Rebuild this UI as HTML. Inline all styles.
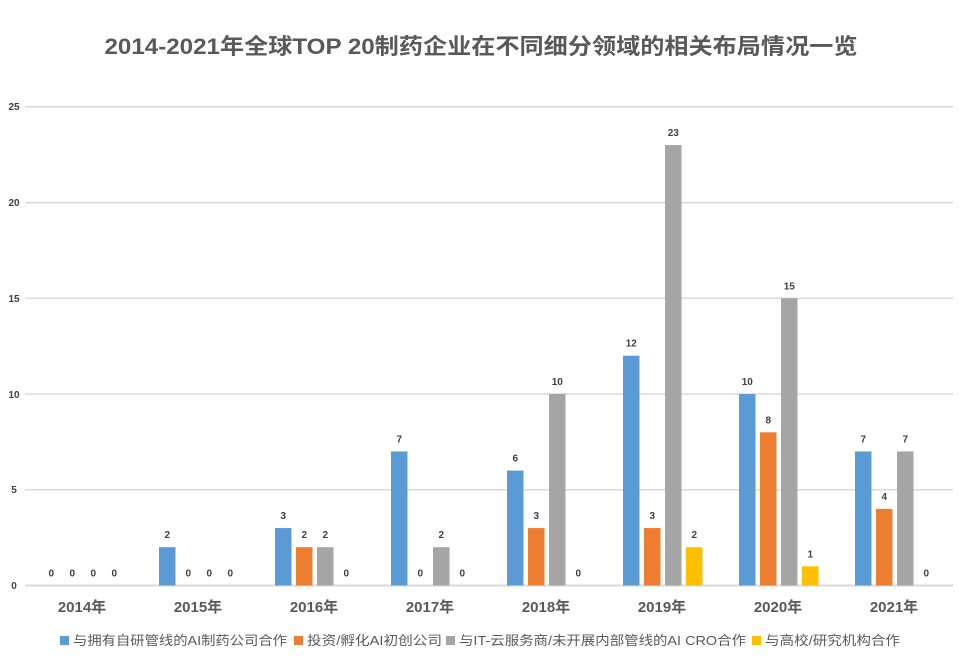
<!DOCTYPE html>
<html><head><meta charset="utf-8"><style>
body{margin:0;background:#fff;}
svg text{font-family:"Liberation Sans","Noto Sans CJK SC",sans-serif;}
</style></head><body>
<svg width="959" height="660" viewBox="0 0 959 660" xmlns="http://www.w3.org/2000/svg">
<rect width="959" height="660" fill="#fff"/>
<text x="481" y="54" text-anchor="middle" font-size="22" font-weight="bold" fill="#595959" textLength="753" lengthAdjust="spacingAndGlyphs">2014-2021年全球TOP 20制药企业在不同细分领域的相关布局情况一览</text>
<g stroke="#d9d9d9" stroke-width="1.5">
<line x1="25" y1="106.8" x2="953" y2="106.8"/>
<line x1="25" y1="202.6" x2="953" y2="202.6"/>
<line x1="25" y1="298.3" x2="953" y2="298.3"/>
<line x1="25" y1="394" x2="953" y2="394"/>
<line x1="25" y1="489.8" x2="953" y2="489.8"/>
<line x1="25" y1="585.5" x2="953" y2="585.5" stroke-width="2"/>
</g>
<g font-size="10" font-weight="bold" fill="#404040" text-anchor="middle">
<text x="14" y="110">25</text><text x="14" y="206">20</text><text x="14" y="302">15</text><text x="14" y="398">10</text><text x="14" y="493">5</text><text x="14" y="589">0</text>
</g>
<g id="bars"></g>
<g font-size="15" font-weight="bold" fill="#595959" text-anchor="middle" id="cats"></g>
<g font-size="13" fill="#595959">
<rect x="60" y="636" width="9" height="9" fill="#5B9BD5"/><text x="73" y="645" textLength="214" lengthAdjust="spacingAndGlyphs">与拥有自研管线的AI制药公司合作</text>
<rect x="294" y="636" width="9" height="9" fill="#ED7D31"/><text x="307" y="645" textLength="135" lengthAdjust="spacingAndGlyphs">投资/孵化AI初创公司</text>
<rect x="446" y="636" width="9" height="9" fill="#A5A5A5"/><text x="459" y="645" textLength="287" lengthAdjust="spacingAndGlyphs">与IT-云服务商/未开展内部管线的AI CRO合作</text>
<rect x="752" y="636" width="9" height="9" fill="#FFC000"/><text x="765" y="645" textLength="135" lengthAdjust="spacingAndGlyphs">与高校/研究机构合作</text>
</g>
<script>
var d=[[0,0,0,0],[2,0,0,0],[3,2,2,0],[7,0,2,0],[6,3,10,0],[12,3,23,2],[10,8,15,1],[7,4,7,0]];
var c=["#5B9BD5","#ED7D31","#A5A5A5","#FFC000"];
var ns="http://www.w3.org/2000/svg",b=document.getElementById("bars"),k=document.getElementById("cats");
for(var g=0;g<8;g++){for(var s=0;s<4;s++){var v=d[g][s],x=43+g*116+s*21,h=v*19.15;
if(v>0){var r=document.createElementNS(ns,"rect");r.setAttribute("x",x);r.setAttribute("y",585.5-h);r.setAttribute("width",16.5);r.setAttribute("height",h);r.setAttribute("fill",c[s]);b.appendChild(r);}
var t=document.createElementNS(ns,"text");t.setAttribute("x",x+8.25);t.setAttribute("y",585.5-h-9);t.setAttribute("text-anchor","middle");t.setAttribute("font-size","10");t.setAttribute("font-weight","bold");t.setAttribute("fill","#404040");t.textContent=v;b.appendChild(t);}
var l=document.createElementNS(ns,"text");l.setAttribute("x",82+g*116);l.setAttribute("y",612);l.textContent=(2014+g)+"年";k.appendChild(l);}
</script>
</svg>
</body></html>
